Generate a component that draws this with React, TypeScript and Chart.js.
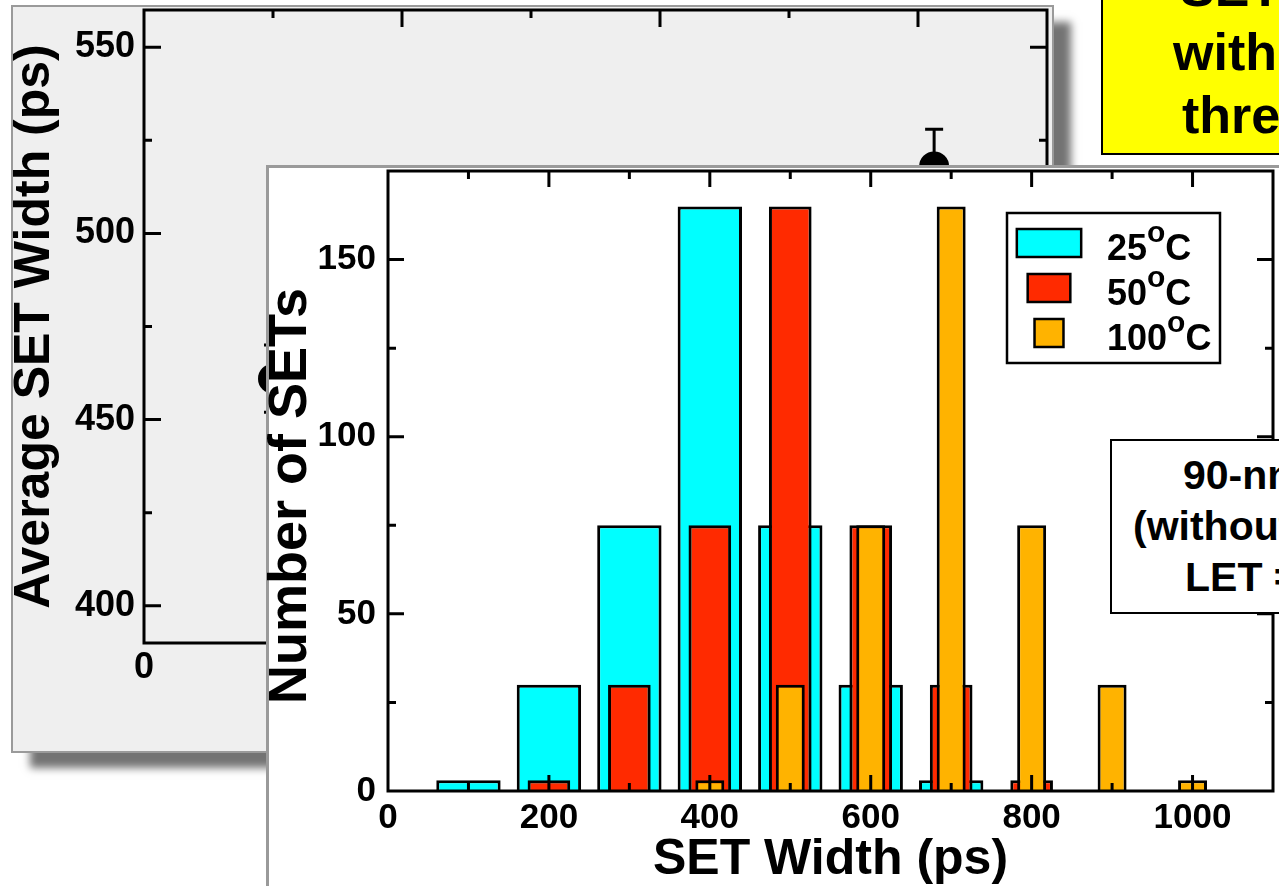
import React, { useEffect, useRef } from "react";
import { Chart, registerables } from "chart.js";

Chart.register(...registerables);

const FONT = "'Liberation Sans', Arial, Helvetica, sans-serif";

// ---- Background chart: average SET width ----
const avgX = [20, 122.5];
const avgWidth = [461, 518];
const avgErr = [9, 10];
const avgYMajor = [400, 450, 500, 550];
const avgYMinor = [425, 475, 525];
const avgXMajor = [0, 40, 80, 120];
const avgXMinor = [20, 60, 100];

// ---- Foreground chart: histogram of SET widths ----
const binCenters = [100, 200, 300, 400, 500, 600, 700, 800, 900, 1000];
const count25 = [3, 30, 75, 165, 75, 30, 3, 0, 0, 0];
const count50 = [0, 3, 30, 75, 165, 75, 30, 3, 0, 0];
const count100 = [0, 0, 0, 3, 30, 75, 165, 75, 30, 3];
const tempLabels = ["25", "50", "100"];
const histXMajor = [0, 200, 400, 600, 800, 1000];
const histXMinor = [100, 300, 500, 700, 900];
const histYMajor = [0, 50, 100, 150];
const histYMinor = [25, 75, 125];

// ---- Text boxes ----
const yellowLines = ["SET Width", "with three", "thresholds"];
const noteLines = ["90-nm CMOS", "(without guard rings)", "LET = 58 MeV-cm²/mg"];

// background canvas is shifted up so its top padding is not limited by label metrics
const BG_SHIFT = 30;

const sorted = (a: number[], b: number[]) => [...a, ...b].sort((p, q) => p - q);

const framePlugin = {
  id: "frameTicks",
  afterDatasetsDraw(chart: any, _args: any, opts: any) {
    const { ctx, chartArea: a } = chart;
    const xs = chart.scales.x;
    const ys = chart.scales.y;
    ctx.save();
    ctx.strokeStyle = "#000";
    ctx.lineWidth = opts.lineWidth;
    ctx.lineCap = "butt";
    ctx.beginPath();
    const xt = (vals: number[], len: number) =>
      vals.forEach((v) => {
        const p = xs.getPixelForValue(v);
        if (p <= a.left + 2 || p >= a.right - 2) return;
        ctx.moveTo(p, a.bottom);
        ctx.lineTo(p, a.bottom - len);
        ctx.moveTo(p, a.top);
        ctx.lineTo(p, a.top + len);
      });
    const yt = (vals: number[], len: number) =>
      vals.forEach((v) => {
        const p = ys.getPixelForValue(v);
        if (p <= a.top + 2 || p >= a.bottom - 2) return;
        ctx.moveTo(a.left, p);
        ctx.lineTo(a.left + len, p);
        ctx.moveTo(a.right, p);
        ctx.lineTo(a.right - len, p);
      });
    xt(opts.xMajor, opts.majorLen);
    xt(opts.xMinor, opts.minorLen);
    yt(opts.yMajor, opts.majorLen);
    yt(opts.yMinor, opts.minorLen);
    ctx.stroke();
    ctx.strokeRect(a.left, a.top, a.right - a.left, a.bottom - a.top);
    ctx.restore();
  },
};

const bgPanelPlugin = {
  id: "bgPanel",
  beforeDraw(chart: any) {
    const { ctx } = chart;
    ctx.save();
    ctx.shadowColor = "rgba(0,0,0,0.55)";
    ctx.shadowBlur = 8;
    ctx.shadowOffsetX = 18;
    ctx.shadowOffsetY = 16;
    ctx.fillStyle = "#efefef";
    ctx.fillRect(12, 6 + BG_SHIFT, 1041, 746);
    ctx.restore();
    ctx.save();
    ctx.strokeStyle = "#9a9a9a";
    ctx.lineWidth = 2;
    ctx.strokeRect(12, 6 + BG_SHIFT, 1041, 746);
    ctx.restore();
  },
};

const errorBarPlugin = {
  id: "errorBars",
  beforeDatasetsDraw(chart: any) {
    const { ctx } = chart;
    const xs = chart.scales.x;
    const ys = chart.scales.y;
    ctx.save();
    ctx.strokeStyle = "#000";
    ctx.lineWidth = 3;
    ctx.beginPath();
    avgX.forEach((xv, i) => {
      const px = xs.getPixelForValue(xv);
      const top = ys.getPixelForValue(avgWidth[i] + avgErr[i]);
      const bot = ys.getPixelForValue(avgWidth[i] - avgErr[i]);
      ctx.moveTo(px, top);
      ctx.lineTo(px, bot);
      ctx.moveTo(px - 9, top);
      ctx.lineTo(px + 9, top);
      ctx.moveTo(px - 9, bot);
      ctx.lineTo(px + 9, bot);
    });
    ctx.stroke();
    ctx.restore();
  },
};

const fgPanelPlugin = {
  id: "fgPanel",
  beforeDraw(chart: any) {
    const { ctx } = chart;
    ctx.save();
    ctx.fillStyle = "#ffffff";
    ctx.fillRect(267, 166, 1100, 800);
    ctx.strokeStyle = "#9a9a9a";
    ctx.lineWidth = 3;
    ctx.strokeRect(267.5, 166.5, 1100, 800);
    ctx.restore();
  },
};

const legendPlugin = {
  id: "tempLegend",
  afterDraw(chart: any) {
    const { ctx } = chart;
    ctx.save();
    ctx.fillStyle = "#fff";
    ctx.fillRect(1007, 213, 213, 150);
    ctx.strokeStyle = "#000";
    ctx.lineWidth = 2.5;
    ctx.strokeRect(1007, 213, 213, 150);
    tempLabels.forEach((t, i) => {
      const ds = chart.data.datasets[i];
      const meta = chart.getDatasetMeta(i);
      const bw = meta.data[0] ? meta.data[0].width : 40;
      const base = 260 + i * 45;
      const cx = 1049;
      ctx.fillStyle = ds.backgroundColor;
      ctx.fillRect(cx - bw / 2, base - 31, bw, 28);
      ctx.lineWidth = 2.5;
      ctx.strokeRect(cx - bw / 2, base - 31, bw, 28);
      ctx.fillStyle = "#000";
      ctx.textBaseline = "alphabetic";
      ctx.textAlign = "left";
      ctx.font = `bold 36px ${FONT}`;
      let x = 1107;
      ctx.fillText(t, x, base);
      x += ctx.measureText(t).width;
      ctx.font = `bold 30px ${FONT}`;
      ctx.fillText("o", x, base - 18);
      x += ctx.measureText("o").width;
      ctx.font = `bold 36px ${FONT}`;
      ctx.fillText("C", x, base);
    });
    ctx.restore();
  },
};

const tickFont = (size: number, lh = 1.2) => ({ family: FONT, size, weight: "bold" as const, lineHeight: lh });

export default function App() {
  const bgRef = useRef<HTMLCanvasElement | null>(null);
  const fgRef = useRef<HTMLCanvasElement | null>(null);

  useEffect(() => {
    if (!bgRef.current || !fgRef.current) return;
    Chart.defaults.color = "#000";
    Chart.defaults.font.family = FONT;

    const bg = new Chart(bgRef.current, {
      type: "scatter",
      data: {
        datasets: [
          {
            label: "Average SET Width",
            data: avgX.map((x, i) => ({ x, y: avgWidth[i] })),
            pointRadius: 15,
            pointBackgroundColor: "#000",
            pointBorderWidth: 0,
            showLine: false,
          },
        ],
      },
      options: {
        animation: false,
        responsive: false,
        events: [],
        layout: { padding: { left: 12, top: 10 + BG_SHIFT, right: 232, bottom: 183 } },
        plugins: { legend: { display: false }, tooltip: { enabled: false }, frameTicks: { lineWidth: 3, majorLen: 17, minorLen: 8, xMajor: avgXMajor, xMinor: avgXMinor, yMajor: avgYMajor, yMinor: avgYMinor } } as any,
        scales: {
          x: {
            type: "linear",
            min: 0,
            max: 140,
            afterBuildTicks: (s: any) => { s.ticks = sorted(avgXMajor, avgXMinor).map((v) => ({ value: v })); },
            ticks: { autoSkip: false, maxRotation: 0, padding: 3, font: tickFont(36), color: "#000", callback: (v: any) => (avgXMajor.includes(Number(v)) ? String(v) : "") },
            grid: { display: false, drawTicks: false },
            border: { display: false },
            afterFit: (s: any) => { s.height = 60; },
          },
          y: {
            min: 390,
            max: 560,
            afterBuildTicks: (s: any) => { s.ticks = sorted(avgYMajor, avgYMinor).map((v) => ({ value: v })); },
            ticks: { autoSkip: false, padding: 9, font: tickFont(36), color: "#000", callback: (v: any) => (avgYMajor.includes(Number(v)) ? String(v) : "") },
            grid: { display: false, drawTicks: false },
            border: { display: false },
            title: { display: true, text: "Average SET Width (ps)", color: "#000", font: { family: FONT, size: 50, weight: "bold", lineHeight: 0.92 }, padding: { top: 0, bottom: 0 } },
            afterFit: (s: any) => { s.width = 132; },
          },
        },
      },
      plugins: [bgPanelPlugin, errorBarPlugin, framePlugin],
    } as any);

    const toXY = (arr: number[]) => binCenters.map((x, i) => ({ x, y: arr[i] })).filter((p) => p.y > 0);

    const fg = new Chart(fgRef.current, {
      type: "bar",
      data: {
        datasets: [
          { label: "25°C", data: toXY(count25), backgroundColor: "#00ffff", borderColor: "#000", borderWidth: 3, barPercentage: 0.8, categoryPercentage: 1, grouped: false, order: 3 },
          { label: "50°C", data: toXY(count50), backgroundColor: "#ff2a00", borderColor: "#000", borderWidth: 3, barPercentage: 0.53, categoryPercentage: 1, grouped: false, order: 2 },
          { label: "100°C", data: toXY(count100), backgroundColor: "#ffb300", borderColor: "#000", borderWidth: 3, barPercentage: 0.36, categoryPercentage: 1, grouped: false, order: 1 },
        ],
      },
      options: {
        animation: false,
        responsive: false,
        events: [],
        layout: { padding: { left: 250, top: 171, right: 6, bottom: 0 } },
        plugins: { legend: { display: false }, tooltip: { enabled: false }, frameTicks: { lineWidth: 3, majorLen: 16, minorLen: 8, xMajor: histXMajor, xMinor: histXMinor, yMajor: histYMajor, yMinor: histYMinor } } as any,
        scales: {
          x: {
            type: "linear",
            min: 0,
            max: 1100,
            offset: false,
            afterBuildTicks: (s: any) => { s.ticks = sorted(histXMajor, histXMinor).map((v) => ({ value: v })); },
            ticks: { autoSkip: false, maxRotation: 0, padding: 6, font: tickFont(35), color: "#000", callback: (v: any) => (histXMajor.includes(Number(v)) ? String(v) : "") },
            grid: { display: false, drawTicks: false },
            border: { display: false },
            title: { display: true, text: "SET Width (ps)", color: "#000", font: { family: FONT, size: 50, weight: "bold", lineHeight: 1 }, padding: { top: 0, bottom: 1 } },
            afterFit: (s: any) => { s.height = 95; },
          },
          y: {
            min: 0,
            max: 175,
            afterBuildTicks: (s: any) => { s.ticks = sorted(histYMajor, histYMinor).map((v) => ({ value: v })); },
            ticks: { autoSkip: false, padding: 12, font: tickFont(35, 0.4), color: "#000", callback: (v: any) => (histYMajor.includes(Number(v)) ? String(v) : "") },
            grid: { display: false, drawTicks: false },
            border: { display: false },
            title: { display: true, text: "Number of SETs\u00a0\u00a0", color: "#000", font: { family: FONT, size: 54, weight: "bold", lineHeight: 1 }, padding: { top: 14, bottom: 0 } },
            afterFit: (s: any) => { s.width = 138; },
          },
        },
      },
      plugins: [fgPanelPlugin, framePlugin, legendPlugin],
    } as any);

    return () => {
      bg.destroy();
      fg.destroy();
    };
  }, []);

  const textSpan = (text: string, left: number, baseline: number, size: number, key: string) => (
    <span
      key={key}
      style={{
        position: "absolute",
        left,
        top: baseline - 0.8465 * size,
        fontSize: size,
        lineHeight: `${size}px`,
        fontWeight: "bold",
        fontFamily: FONT,
        whiteSpace: "nowrap",
        color: "#000",
      }}
    >
      {text}
    </span>
  );

  const yellowLeft = [1180, 1173, 1182];
  const yellowBase = [6, 70, 133];
  const noteLeft = [1183, 1133, 1185];
  const noteBase = [490, 541, 592];

  return (
    <div style={{ position: "absolute", left: 0, top: 0, width: 1279, height: 886, overflow: "hidden", background: "#fff" }}>
      <canvas ref={bgRef} width={1279} height={886 + BG_SHIFT} style={{ position: "absolute", left: 0, top: -BG_SHIFT }} />
      <canvas ref={fgRef} width={1279} height={886} style={{ position: "absolute", left: 0, top: 0 }} />
      <div style={{ position: "absolute", left: 1101, top: -10, width: 400, height: 165, boxSizing: "border-box", border: "2px solid #000", background: "#ffff00" }} />
      {yellowLines.map((t, i) => textSpan(t, yellowLeft[i], yellowBase[i], 52, "y" + i))}
      <div style={{ position: "absolute", left: 1110, top: 439, width: 400, height: 175, boxSizing: "border-box", border: "2px solid #000", background: "#fff" }} />
      {noteLines.map((t, i) => textSpan(t, noteLeft[i], noteBase[i], 41, "n" + i))}
    </div>
  );
}
